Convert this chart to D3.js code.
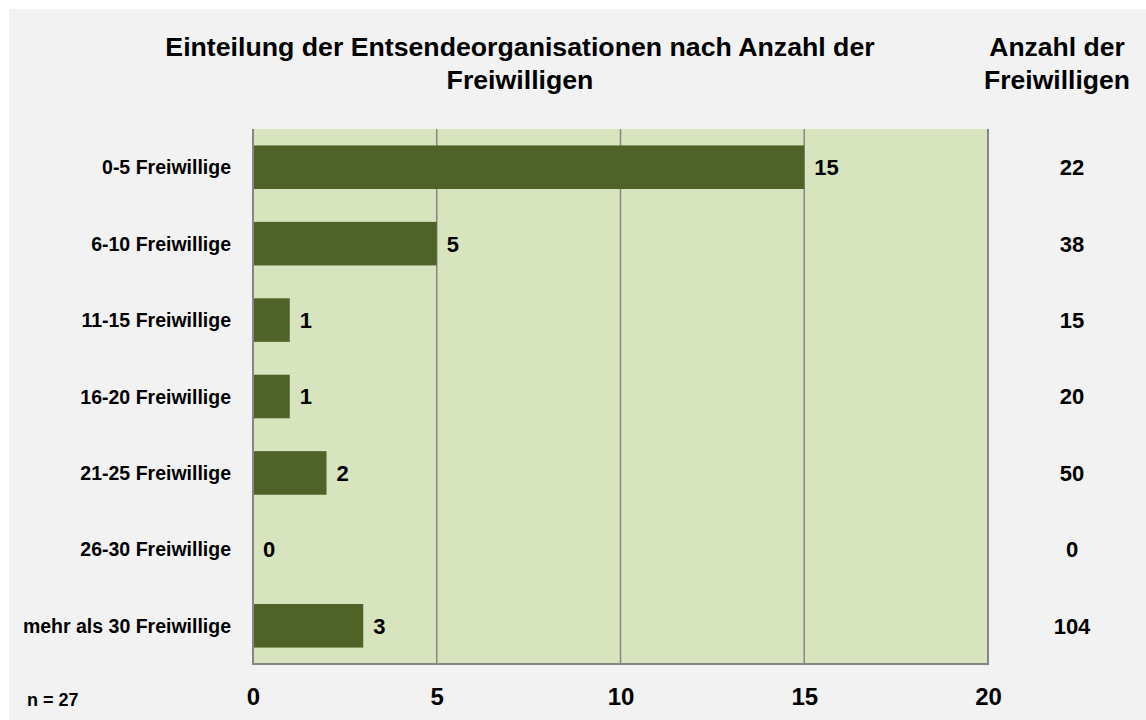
<!DOCTYPE html>
<html><head><meta charset="utf-8">
<script src="https://cdn.jsdelivr.net/npm/d3@7"></script>
<style>
html,body{margin:0;padding:0;background:#fff;}
svg text{font-family:"Liberation Sans",Arial,sans-serif;font-weight:bold;fill:#000;}
</style></head>
<body>
<svg id="chart" width="1146" height="720"></svg>
<script>
const categories = ["0-5 Freiwillige","6-10 Freiwillige","11-15 Freiwillige","16-20 Freiwillige","21-25 Freiwillige","26-30 Freiwillige","mehr als 30 Freiwillige"];
const orgCounts = [15,5,1,1,2,0,3];
const volunteerCounts = [22,38,15,20,50,0,104];
const xTicks = [0,5,10,15,20];
const titleLines = ["Einteilung der Entsendeorganisationen nach Anzahl der","Freiwilligen"];
const sideHeader = ["Anzahl der","Freiwilligen"];
const note = "n = 27";

(function(){
const svg = d3.select("#chart");
svg.append("rect").attr("x",9).attr("y",9).attr("width",1137).attr("height",711).attr("fill","#f2f2f2");

const pL = 253, pR = 988, pT = 129, pB = 664;
const x = d3.scaleLinear().domain([0,20]).range([pL,pR]);
const y = d3.scaleBand().domain(categories).range([pT,pB]).paddingInner(0.43).paddingOuter(0.215);

svg.append("rect").attr("x",pL).attr("y",pT).attr("width",pR-pL).attr("height",pB-pT).attr("fill","#d7e4bd");

svg.append("g").selectAll("line").data(xTicks.slice(1,-1)).join("line")
  .attr("x1",d=>x(d)).attr("x2",d=>x(d)).attr("y1",pT).attr("y2",pB)
  .attr("stroke","#868686").attr("stroke-width",1.5);

svg.append("g").selectAll("rect").data(orgCounts).join("rect")
  .attr("x",x(0)).attr("y",(d,i)=>y(categories[i]))
  .attr("width",d=>x(d)-x(0)).attr("height",y.bandwidth())
  .attr("fill","#4f6228");

svg.append("path").attr("d",`M${pL},${pT}V${pB}H${pR}V${pT}`)
  .attr("fill","none").attr("stroke","#868686").attr("stroke-width",2);

svg.append("g").selectAll("text").data(orgCounts).join("text")
  .attr("x",d=>x(d)+10).attr("y",(d,i)=>y(categories[i])+y.bandwidth()/2)
  .attr("dy","0.36em").attr("font-size",22).text(d=>d);

svg.append("g").selectAll("text").data(categories).join("text")
  .attr("x",231).attr("y",d=>y(d)+y.bandwidth()/2).attr("dy","0.36em")
  .attr("text-anchor","end").attr("font-size",19.5).text(d=>d);

svg.append("g").selectAll("text").data(volunteerCounts).join("text")
  .attr("x",1072).attr("y",(d,i)=>y(categories[i])+y.bandwidth()/2).attr("dy","0.36em")
  .attr("text-anchor","middle").attr("font-size",22).text(d=>d);

const xAxis = d3.axisBottom(x).tickValues(xTicks).tickSize(0).tickPadding(0);
const gx = svg.append("g").attr("transform",`translate(0,${pB})`).call(xAxis);
gx.select(".domain").remove();
gx.selectAll("text").attr("y",41).attr("dy","0").attr("font-size",24)
  .style("font-family","'Liberation Sans',Arial,sans-serif").style("font-weight","bold").attr("fill","#000");

svg.append("g").selectAll("text").data(titleLines).join("text")
  .attr("x",520).attr("y",(d,i)=>56+i*33).attr("text-anchor","middle").attr("font-size",26.7).text(d=>d);
svg.append("g").selectAll("text").data(sideHeader).join("text")
  .attr("x",1057).attr("y",(d,i)=>56+i*33).attr("text-anchor","middle").attr("font-size",26.5).text(d=>d);

svg.append("text").attr("x",27).attr("y",706).attr("font-size",18).text(note);
})();
</script>
</body></html>
